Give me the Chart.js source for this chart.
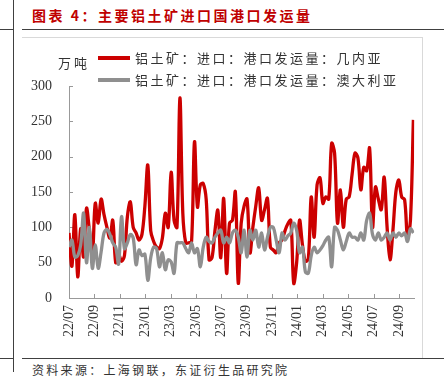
<!DOCTYPE html>
<html><head><meta charset="utf-8">
<script src="https://cdn.jsdelivr.net/npm/chart.js@4.4.1/dist/chart.umd.min.js"></script>
<style>
html,body{margin:0;padding:0;background:#fff;}
body{width:444px;height:382px;position:relative;overflow:hidden;font-family:"Noto Sans CJK SC",sans-serif;color:#333;}
.ln{position:absolute;background:#404040;}
#title{position:absolute;left:32px;top:5px;font-size:14px;font-weight:bold;color:#C00000;letter-spacing:2.5px;white-space:nowrap;line-height:20px;}
#box{position:absolute;left:22px;top:37px;width:400px;height:321px;border-top:1px solid #d9d9d9;border-right:1px solid #d9d9d9;}
#wrap{position:absolute;left:22px;top:38px;width:401px;height:319px;}
.txt{position:absolute;white-space:nowrap;font-size:13px;line-height:20px;letter-spacing:2.5px;color:#333;}
.sw{position:absolute;left:98px;width:32px;height:4px;}
#src{position:absolute;left:32px;top:360px;font-size:12px;line-height:20px;letter-spacing:2.3px;white-space:nowrap;color:#333;}
</style></head>
<body>
<div class="ln" style="left:13px;top:0;width:1px;height:372px"></div>
<div class="ln" style="left:0;top:29px;width:13px;height:1px"></div>
<div class="ln" style="left:22px;top:29px;width:422px;height:1px"></div>
<div id="title">图表 4：主要铝土矿进口国港口发运量</div>
<div id="box"></div>
<div id="wrap"><canvas id="c" width="401" height="319"></canvas></div>
<div class="txt" style="left:58px;top:53px;letter-spacing:3px">万吨</div>
<div class="sw" style="top:56px;background:#CC0000"></div>
<div class="txt" id="lg1" style="left:135px;top:48px"></div>
<div class="sw" style="top:78px;background:#8F8F8F"></div>
<div class="txt" id="lg2" style="left:135px;top:70px"></div>
<div class="ln" style="left:0;top:358px;width:13px;height:1px"></div>
<div class="ln" style="left:22px;top:358px;width:422px;height:1px"></div>
<div id="src">资料来源：上海钢联，东证衍生品研究院</div>
<script>
// ---- data (weekly, starting first week of 2022/07) ----
const seriesNames = ['铝土矿：进口：港口发运量：几内亚', '铝土矿：进口：港口发运量：澳大利亚'];
const tickLabels = ['22/07','22/09','22/11','23/01','23/03','23/05','23/07','23/09','23/11','24/01','24/03','24/05','24/07','24/09'];
const startDate = '2022-07-01';
const guinea = [92,45,118,30,98,58,127,95,60,134,
  106,140,118,100,85,110,50,62,52,60,
  115,136,100,92,82,90,130,188,95,80,
  72,70,85,120,100,178,110,100,283,120,
  78,78,80,221,129,160,162,140,54,57,
  95,124,57,141,35,106,110,150,21,106,
  130,140,64,100,130,156,110,125,141,72,
  68,64,78,82,95,105,110,21,50,110,
  75,52,55,143,86,160,170,134,143,140,
  219,205,106,153,100,140,143,175,205,198,
  153,185,180,212,100,157,140,125,171,100,
  54,96,150,167,143,139,86,110,252];
const australia = [72,82,58,60,75,120,50,100,42,75,
  42,65,92,97,90,78,72,48,115,70,
  78,90,85,47,68,60,62,25,57,72,
  70,44,64,40,54,51,35,78,78,78,
  70,64,78,64,70,44,72,86,80,78,
  86,92,96,78,86,78,92,96,86,64,
  96,58,96,82,96,72,92,68,86,100,
  100,82,64,92,82,88,92,106,96,64,
  72,37,35,60,72,64,68,74,82,86,
  44,100,96,82,68,80,92,86,86,82,
  92,82,110,120,90,82,92,82,86,92,
  82,92,86,92,88,92,80,98,92];

document.getElementById('lg1').textContent = seriesNames[0];
document.getElementById('lg2').textContent = seriesNames[1];

// week dates -> months since start
const t0 = new Date(startDate + 'T00:00:00Z').getTime();
const monthPos = guinea.map((_, i) => ((t0 + i * 7 * 86400000) - t0) / 86400000 / 30.4375);
const toPts = arr => arr.map((v, i) => ({x: monthPos[i], y: v}));

const innerTicks = {
  id: 'innerTicks',
  beforeDatasetsDraw(chart) {
    const ctx = chart.ctx, xs = chart.scales.x, ys = chart.scales.y;
    ctx.save();
    ctx.strokeStyle = '#999';
    ctx.lineWidth = 1;
    ctx.beginPath();
    ys.ticks.forEach(t => {
      const p = Math.round(ys.getPixelForValue(t.value)) + 0.5;
      ctx.moveTo(xs.left, p); ctx.lineTo(xs.left + 4, p);
    });
    xs.ticks.forEach(t => {
      const p = Math.round(xs.getPixelForValue(t.value)) + 0.5;
      ctx.moveTo(p, ys.bottom); ctx.lineTo(p, ys.bottom - 4);
    });
    ctx.stroke();
    ctx.restore();
  }
};

new Chart(document.getElementById('c'), {
  type: 'line',
  data: {
    datasets: [
      {label: seriesNames[0], data: toPts(guinea), borderColor: '#CC0000', borderWidth: 3.3, pointRadius: 0, tension: 0.35, order: 2, fill: false},
      {label: seriesNames[1], data: toPts(australia), borderColor: '#8F8F8F', borderWidth: 3.3, pointRadius: 0, tension: 0.35, order: 1, fill: false}
    ]
  },
  options: {
    responsive: false,
    animation: false,
    devicePixelRatio: 1,
    layout: {padding: {top: 48, right: 6, left: 0, bottom: 0}},
    plugins: {legend: {display: false}, tooltip: {enabled: false}},
    scales: {
      x: {
        type: 'linear', min: 0, max: 27.2,
        afterFit(s) { s.height = 59; },
        grid: {drawOnChartArea: false, drawTicks: false},
        border: {display: true, color: '#999', width: 1},
        ticks: {
          stepSize: 2, includeBounds: false, autoSkip: false,
          minRotation: 90, maxRotation: 90, padding: 7,
          color: '#333', font: {family: 'Liberation Serif', size: 14},
          callback(v) { const k = Math.round(v / 2); return (Math.abs(v - 2 * k) < 1e-6 && tickLabels[k]) ? tickLabels[k] : null; }
        }
      },
      y: {
        min: 0, max: 300,
        afterFit(s) { s.width = 47; },
        grid: {drawOnChartArea: false, drawTicks: false},
        border: {display: true, color: '#999', width: 1},
        ticks: {stepSize: 50, padding: 17, color: '#333', font: {family: 'Liberation Serif', size: 14}}
      }
    }
  },
  plugins: [innerTicks]
});
</script>
</body></html>
